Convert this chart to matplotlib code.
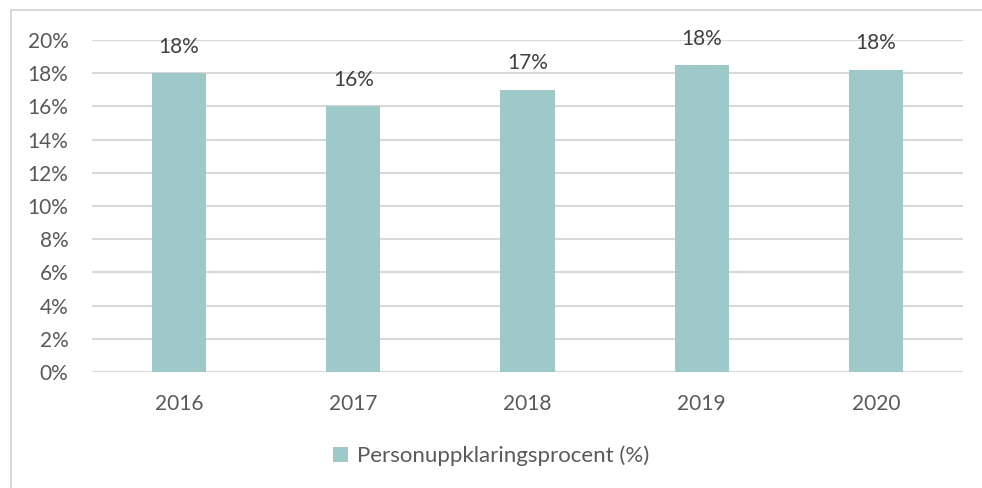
import matplotlib.pyplot as plt
from matplotlib.patches import Rectangle
from matplotlib.ticker import FuncFormatter

years = ["2016", "2017", "2018", "2019", "2020"]
values = [18.0, 16.0, 17.0, 18.5, 18.2]
labels = ["18%", "16%", "17%", "18%", "18%"]
series_name = "Personuppklaringsprocent (%)"

bar_color = "#9FC9C8"
text_color = "#595959"
label_color = "#404040"
grid_color = "#D9D9D9"

plt.rcParams["font.family"] = ["Lato", "DejaVu Sans"]

fig = plt.figure(figsize=(9.82, 4.88), dpi=100)
ax = fig.add_axes([92 / 982, 116 / 488, (963 - 92) / 982, (372 - 40) / 488])

x = range(len(years))
bars = ax.bar(x, values, width=0.31, color=bar_color, label=series_name, zorder=3)

for b, lab in zip(bars, labels):
    ax.annotate(lab, (b.get_x() + b.get_width() / 2, b.get_height()),
                xytext=(0, 19), textcoords="offset points",
                ha="center", va="center", fontsize=15, color=label_color)

ax.set_xlim(-0.5, 4.5)
ax.set_ylim(0, 20)
ax.set_yticks(range(0, 21, 2))
ax.yaxis.set_major_formatter(FuncFormatter(lambda v, p: f"{v:.0f}%"))
ax.set_xticks(list(x))
ax.set_xticklabels(years)
ax.tick_params(axis="both", length=0, labelsize=15, labelcolor=text_color)
ax.tick_params(axis="y", pad=17)
ax.tick_params(axis="x", pad=16)
ax.grid(axis="y", color=grid_color, linewidth=1.5, zorder=0)
for s in ax.spines.values():
    s.set_visible(False)

fig.legend(loc="center", bbox_to_anchor=(0.5, 32 / 488), frameon=False,
           fontsize=16, labelcolor=text_color, handlelength=0.7,
           handleheight=0.7, handletextpad=0.4)

# chart frame (left and top edges visible)
fig.patches.append(Rectangle((11 / 982, -0.1), 1.2, (478 / 488) + 0.1,
                             transform=fig.transFigure, fill=False,
                             edgecolor=grid_color, linewidth=1.5))

fig.savefig("out.png", dpi=100)
